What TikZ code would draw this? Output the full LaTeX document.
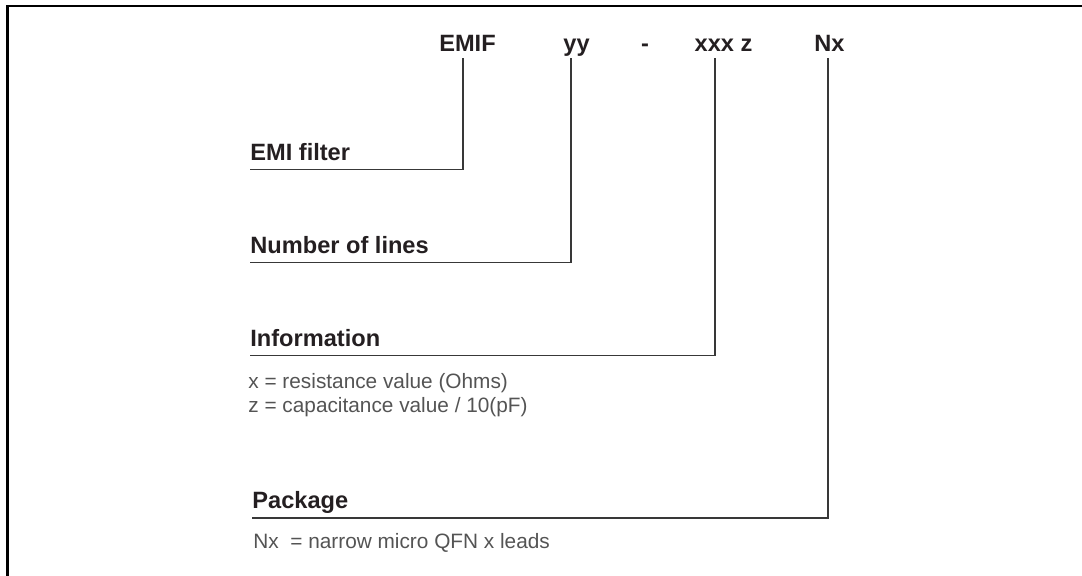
\documentclass[tikz,border=0pt]{standalone}
\usepackage{fontspec}
\setmainfont{Liberation Sans}
\usetikzlibrary{positioning}
\definecolor{ink}{rgb}{0.14,0.12,0.13}
\definecolor{descgray}{rgb}{0.33,0.33,0.33}
\definecolor{leadgray}{rgb}{0.22,0.22,0.22}

\begin{document}
\begin{tikzpicture}[x=0.5pt,y=-0.5pt,
codepart/.style={font=\fontsize{11.8pt}{14pt}\selectfont\bfseries, text=ink, inner sep=0pt, inner ysep=3pt, text depth=0pt, anchor=base},
fieldlabel/.style={font=\fontsize{11.8pt}{14pt}\selectfont\bfseries, text=ink, inner xsep=0pt, inner ysep=4.5pt, text depth=0pt, anchor=base west},
fielddesc/.style={font=\fontsize{10.4pt}{13pt}\selectfont\mdseries, text=descgray, inner sep=0pt, anchor=base west},
leader/.style={draw=leadgray, line width=0.8pt},
outerframe/.style={draw=black, line width=1.25pt}]
\useasboundingbox (0,0) rectangle (1082,575);
\draw[outerframe] (7.5,580) -- (7.5,6) -- (1090,6);%open frame

% part number
\node[codepart] (emif) at (467.5,51.7) {EMIF};
\node[codepart] (lines) at (576.5,51.7) {yy};
\node[codepart] (dash) at (645,51.7) {-};
\node[codepart] (info) at (723.5,51.7) {xxx z};
\node[codepart] (pkg) at (829.5,51.7) {Nx};

% fields
\node[fieldlabel] (emilabel) at (250,160) {EMI filter};
\node[fieldlabel] (lineslabel) at (250,253) {Number of lines};
\node[fieldlabel] (infolabel) at (250,346) {Information};
\node[fielddesc] (resdesc) at (248,388) {x = resistance value (Ohms)};
\node[fielddesc] (capdesc) at (248,412) {z = capacitance value / 10(pF)};
\node[fieldlabel] (pkglabel) at (252,508.5) {Package};
\node[fielddesc] (pkgdesc) at (253,548) {Nx~ = narrow micro QFN x leads};

% leaders
\draw[leader] ([xshift=-2.25pt]emif.south) |- (emilabel.south west);
\draw[leader] ([xshift=-2.75pt]lines.south) |- (lineslabel.south west);
\draw[leader] ([xshift=-4.25pt]info.south) |- (infolabel.south west);
\draw[leader] ([xshift=-0.75pt]pkg.south) |- (pkglabel.south west);

\end{tikzpicture}
\end{document}
